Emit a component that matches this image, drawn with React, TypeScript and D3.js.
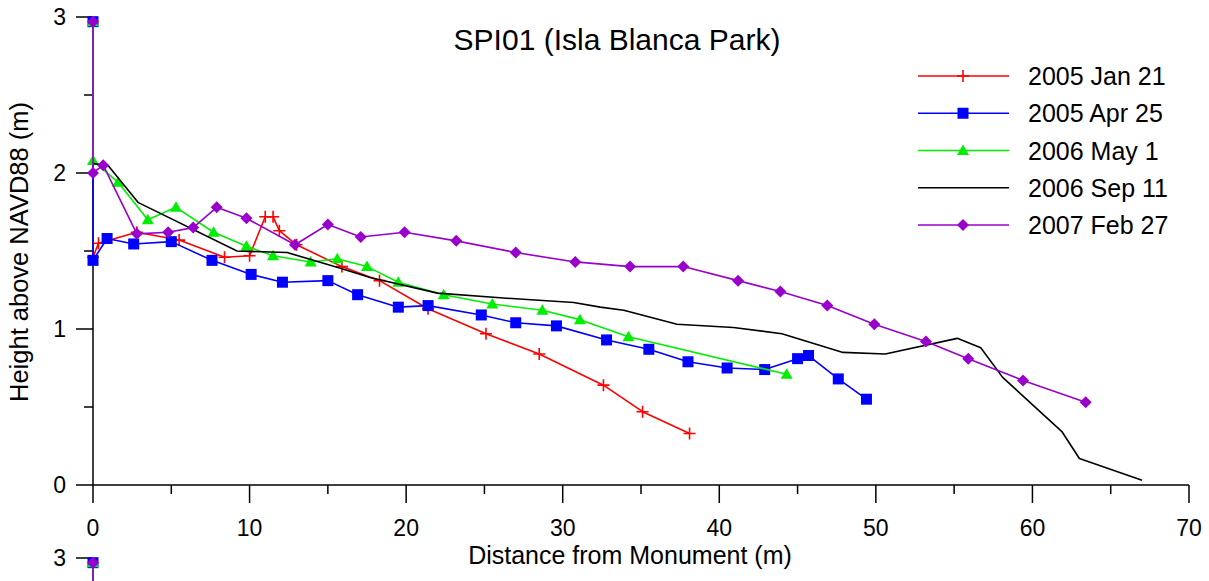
import React from "react";
import * as d3 from "d3";

const W = 1209;
const H = 581;

const title = "SPI01 (Isla Blanca Park)";
const xLabel = "Distance from Monument (m)";
const yLabel = "Height above NAVD88 (m)";
const xTicks = [0, 10, 20, 30, 40, 50, 60, 70];
const xMinorTicks = [5, 15, 25, 35, 45, 55, 65];
const yTicks = [0, 1, 2, 3];
const yMinorTicks = [0.5, 1.5, 2.5];

const jan2005: [number, number][] = [
  [0, 1.46], [0.35, 1.55], [2.8, 1.62], [5.5, 1.57], [8.4, 1.46], [10.0, 1.47],
  [11.0, 1.72], [11.5, 1.72], [11.9, 1.63], [13.0, 1.54], [15.9, 1.4], [18.3, 1.31],
  [21.4, 1.13], [25.1, 0.97], [28.5, 0.84], [32.6, 0.64], [35.1, 0.47], [38.1, 0.33],
];
const apr2005: [number, number][] = [
  [0, 2.97], [0, 1.44], [0.9, 1.58], [2.6, 1.545], [5.0, 1.56], [7.6, 1.44], [10.1, 1.35],
  [12.1, 1.3], [15.0, 1.31], [16.9, 1.22], [19.5, 1.14], [21.4, 1.15], [24.8, 1.09],
  [27.0, 1.04], [29.6, 1.02], [32.8, 0.93], [35.5, 0.87], [38.0, 0.79], [40.5, 0.75],
  [42.9, 0.74], [45.0, 0.81], [45.7, 0.83], [47.6, 0.68], [49.4, 0.55],
];
const may2006: [number, number][] = [
  [0, 2.97], [0, 2.08], [1.6, 1.94], [3.5, 1.7], [5.3, 1.78], [7.7, 1.62], [9.8, 1.53],
  [11.5, 1.47], [13.9, 1.43], [15.6, 1.45], [17.5, 1.4], [19.5, 1.3], [22.4, 1.22],
  [25.5, 1.16], [28.7, 1.12], [31.1, 1.06], [34.2, 0.95], [44.3, 0.71],
];
const sep2006: [number, number][] = [
  [0, 2.06], [0.95, 2.05], [2.9, 1.81], [9.2, 1.5], [12.4, 1.49], [15.8, 1.39],
  [17.7, 1.33], [22.0, 1.23], [26.0, 1.2], [30.7, 1.17], [32.4, 1.14], [33.9, 1.12],
  [37.3, 1.03], [40.9, 1.01], [44.0, 0.97], [47.9, 0.85], [50.6, 0.84], [55.2, 0.94],
  [56.7, 0.88], [58.1, 0.69], [61.9, 0.34], [63.0, 0.17], [67.0, 0.03],
];
const feb2007: [number, number][] = [
  [0, 2.97], [0, 2.0], [0.65, 2.05], [2.8, 1.61], [4.8, 1.62], [6.4, 1.65], [7.9, 1.78],
  [9.8, 1.71], [12.9, 1.54], [15.0, 1.67], [17.1, 1.59], [19.9, 1.62], [23.2, 1.565],
  [27.0, 1.49], [30.8, 1.43], [34.3, 1.4], [37.7, 1.4], [41.2, 1.31], [43.9, 1.24],
  [46.9, 1.15], [49.9, 1.03], [53.2, 0.92], [55.9, 0.81], [59.4, 0.67], [63.4, 0.53],
];

// second (cropped) panel below: only its top is visible
const panel2Blue: [number, number][] = [[0, 2.97], [0, 2.4]];
const panel2Green: [number, number][] = [[0, 2.97], [0, 2.4]];
const panel2Purple: [number, number][] = [[0, 2.97], [0, 2.4]];

type Marker = "plus" | "square" | "triangle" | "none" | "diamond";
interface Series {
  name: string;
  data: [number, number][];
  color: string;
  marker: Marker;
}

const series: Series[] = [
  { name: "2005 Jan 21", data: jan2005, color: "#ff0000", marker: "plus" },
  { name: "2005 Apr 25", data: apr2005, color: "#0000ff", marker: "square" },
  { name: "2006 May 1", data: may2006, color: "#00ee00", marker: "triangle" },
  { name: "2006 Sep 11", data: sep2006, color: "#000000", marker: "none" },
  { name: "2007 Feb 27", data: feb2007, color: "#9900cc", marker: "diamond" },
];

const panel2Series: Series[] = [
  { name: "b", data: panel2Blue, color: "#0000ff", marker: "square" },
  { name: "g", data: panel2Green, color: "#00ee00", marker: "triangle" },
  { name: "p", data: panel2Purple, color: "#9900cc", marker: "diamond" },
];

const FONT = "'Liberation Sans', Arial, Helvetica, sans-serif";

function MarkerShape({ type, x, y, color }: { type: Marker; x: number; y: number; color: string }) {
  switch (type) {
    case "plus":
      return (
        <path d={`M${x - 6},${y}H${x + 6}M${x},${y - 6}V${y + 6}`} stroke={color} strokeWidth={1.6} fill="none" />
      );
    case "square":
      return <rect x={x - 5.5} y={y - 5.5} width={11} height={11} fill={color} />;
    case "triangle":
      return <path d={`M${x},${y - 6}L${x + 6},${y + 4.5}L${x - 6},${y + 4.5}Z`} fill={color} />;
    case "diamond":
      return <path d={`M${x},${y - 6}L${x + 6},${y}L${x},${y + 6}L${x - 6},${y}Z`} fill={color} />;
    default:
      return null;
  }
}

function Panel({ list, yShift, full }: { list: Series[]; yShift: number; full: boolean }) {
  const x = d3.scaleLinear().domain([0, 70]).range([93, 1189]);
  const y = d3.scaleLinear().domain([0, 3]).range([485 + yShift, 17 + yShift]);
  const line = d3
    .line<[number, number]>()
    .x((d) => x(d[0]))
    .y((d) => y(d[1]));
  const ticksY = full ? yTicks : [3];
  const minorY = full ? yMinorTicks : [];
  return (
    <g>
      <line x1={x(0)} x2={x(0)} y1={y(3)} y2={full ? y(0) : H + 10} stroke="#000" strokeWidth={1.5} />
      {full && <line x1={x(0)} x2={x(70)} y1={y(0)} y2={y(0)} stroke="#000" strokeWidth={1.5} />}
      {ticksY.map((t) => (
        <g key={"yt" + t}>
          <line x1={x(0) - 17} x2={x(0)} y1={y(t)} y2={y(t)} stroke="#000" strokeWidth={1.5} />
          <text x={66} y={y(t) + 8} textAnchor="end" fontSize={23} fontFamily={FONT}>
            {t}
          </text>
        </g>
      ))}
      {minorY.map((t) => (
        <line key={"ym" + t} x1={x(0) - 9} x2={x(0)} y1={y(t)} y2={y(t)} stroke="#000" strokeWidth={1.5} />
      ))}
      {full &&
        xTicks.map((t) => (
          <g key={"xt" + t}>
            <line x1={x(t)} x2={x(t)} y1={y(0)} y2={y(0) + 18} stroke="#000" strokeWidth={1.5} />
            <text x={x(t)} y={536} textAnchor="middle" fontSize={23} fontFamily={FONT}>
              {t}
            </text>
          </g>
        ))}
      {full &&
        xMinorTicks.map((t) => (
          <line key={"xm" + t} x1={x(t)} x2={x(t)} y1={y(0)} y2={y(0) + 9} stroke="#000" strokeWidth={1.5} />
        ))}
      {list.map((s) => (
        <g key={s.name}>
          <path d={line(s.data) || ""} fill="none" stroke={s.color} strokeWidth={1.6} strokeLinejoin="round" />
          {s.data.map((d, i) => (
            <MarkerShape key={i} type={s.marker} x={x(d[0])} y={y(d[1])} color={s.color} />
          ))}
        </g>
      ))}
    </g>
  );
}

export default function App() {
  const legendY = d3.scaleLinear().domain([0, 4]).range([76, 225]);
  return (
    <svg width={W} height={H} style={{ position: "absolute", left: 0, top: 0, background: "#fff" }}>
      <rect width={W} height={H} fill="#fff" />
      <Panel list={series} yShift={0} full={true} />
      <Panel list={panel2Series} yShift={541} full={false} />
      <text x={617} y={50} textAnchor="middle" fontSize={30} fontFamily={FONT}>
        {title}
      </text>
      <text x={630} y={564} textAnchor="middle" fontSize={25} fontFamily={FONT}>
        {xLabel}
      </text>
      <text
        transform={`translate(28,252) rotate(-90)`}
        textAnchor="middle"
        fontSize={25.5}
        fontFamily={FONT}
      >
        {yLabel}
      </text>
      {series.map((s, i) => (
        <g key={"lg" + s.name}>
          <line x1={918} x2={1009} y1={legendY(i)} y2={legendY(i)} stroke={s.color} strokeWidth={1.6} />
          <MarkerShape type={s.marker} x={963} y={legendY(i)} color={s.color} />
          <text x={1028} y={legendY(i) + 9} fontSize={25} fontFamily={FONT}>
            {s.name}
          </text>
        </g>
      ))}
    </svg>
  );
}
